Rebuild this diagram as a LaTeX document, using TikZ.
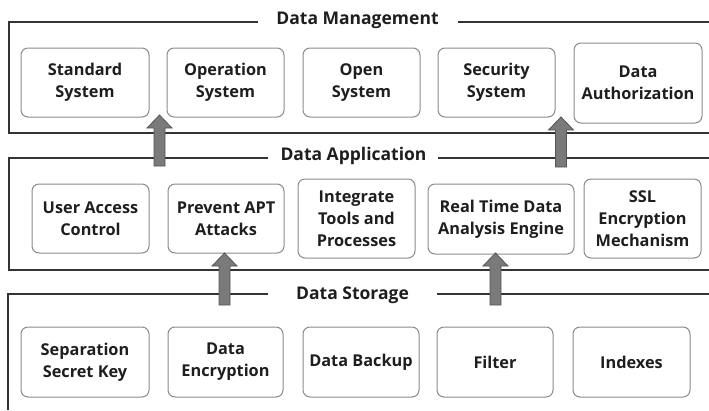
\documentclass[tikz,border=0pt]{standalone}
\usepackage{fontspec}
\setmainfont{Open Sans}
\usetikzlibrary{calc}

\definecolor{framecol}{HTML}{333333}
\definecolor{boxcol}{HTML}{8A8A8A}
\definecolor{txtcol}{HTML}{1E1E1E}
\definecolor{arrowfill}{HTML}{7A7A7A}
\definecolor{arrowline}{HTML}{555555}

\tikzset{
  frameline/.style={draw=framecol, line width=1.8pt},
  layertitle/.style={font=\bfseries\fontsize{17.5}{20}\selectfont, text=txtcol, inner sep=0pt},
  itembox/.style={draw=boxcol, line width=1pt, rounded corners=7pt, align=center,
    font=\bfseries\fontsize{16.3}{22}\selectfont, text=txtcol, inner sep=1pt,
    minimum width=117pt, minimum height=69pt},
  blockarrow/.style={fill=arrowfill, draw=arrowline, line width=0.8pt, line join=miter},
}

% upward block arrow from base coordinate #1 to tip coordinate #2
\newcommand\layerarrow[2]{%
  \draw[blockarrow]
    ($(#1)+(-5.5,0)$) -- ($(#2)+(-5.5,13)$) -- ($(#2)+(-12.5,13)$) -- (#2)
    -- ($(#2)+(12.5,13)$) -- ($(#2)+(5.5,13)$) -- ($(#1)+(5.5,0)$) -- cycle;}

\begin{document}
\begin{tikzpicture}[x=1pt, y=-1pt]
\useasboundingbox (0,0) rectangle (709,410);

% ---- layer frames ----
\draw[frameline] (258,22) -- (9,22) -- (9,133) -- (709,133);
\draw[frameline] (458,22) -- (709,22);
\node[layertitle] (tmgmt) at (357.5,20) {Data Management};

\draw[frameline] (268,158) -- (9,158) -- (9,270) -- (709,270);
\draw[frameline] (438,158) -- (709,158);
\node[layertitle] (tapp) at (353.5,156) {Data Application};

\draw[frameline] (268,294) -- (8,294) -- (8,410);
\draw[frameline] (437,294) -- (709,294);
\node[layertitle] (tstore) at (352.5,295) {Data Storage};

% ---- Data Management ----
\node[itembox, minimum width=128pt] (std) at (85,82.5) {Standard\\System};
\node[itembox] (ops) at (225.5,82.5) {Operation\\System};
\node[itembox] (open) at (361.5,82.5) {Open\\System};
\node[itembox] (sec) at (496.5,82.5) {Security\\System};
\node[itembox, minimum width=128pt, minimum height=80pt] (auth) at (638,83) {Data\\Authorization};

% ---- Data Application ----
\node[itembox] (uac) at (90.5,218.5) {User Access\\Control};
\node[itembox, minimum width=116pt] (apt) at (226,218.5) {Prevent APT\\Attacks};
\node[itembox, minimum height=79pt] (itp) at (356.5,218.5) {Integrate\\Tools and\\Processes};
\node[itembox, minimum width=146pt, minimum height=70pt] (rtd) at (501,219) {Real Time Data\\Analysis Engine};
\node[itembox, minimum height=79pt] (ssl) at (642.5,218.5) {SSL\\Encryption\\Mechanism};

% ---- Data Storage ----
\node[itembox, minimum width=128pt, minimum height=70pt] (ssk) at (85,362) {Separation\\Secret Key};
\node[itembox, minimum width=115pt, minimum height=70pt] (enc) at (225.5,362) {Data\\Encryption};
\node[itembox, minimum width=116pt, minimum height=70pt] (bak) at (361,362) {Data Backup};
\node[itembox, minimum width=116pt, minimum height=70pt] (flt) at (495,362) {Filter};
\node[itembox, minimum height=70pt] (idx) at (631.5,362) {Indexes};

% ---- arrows between layers ----
\coordinate (a1b) at (159.5,166); \coordinate (a1t) at (159.5,115);
\coordinate (a2b) at (561,167);   \coordinate (a2t) at (561,117);
\coordinate (a3b) at (224.5,305); \coordinate (a3t) at (224.5,253);
\coordinate (a4b) at (495.5,305); \coordinate (a4t) at (495.5,253);
\layerarrow{a1b}{a1t}
\layerarrow{a2b}{a2t}
\layerarrow{a3b}{a3t}
\layerarrow{a4b}{a4t}
\end{tikzpicture}
\end{document}
